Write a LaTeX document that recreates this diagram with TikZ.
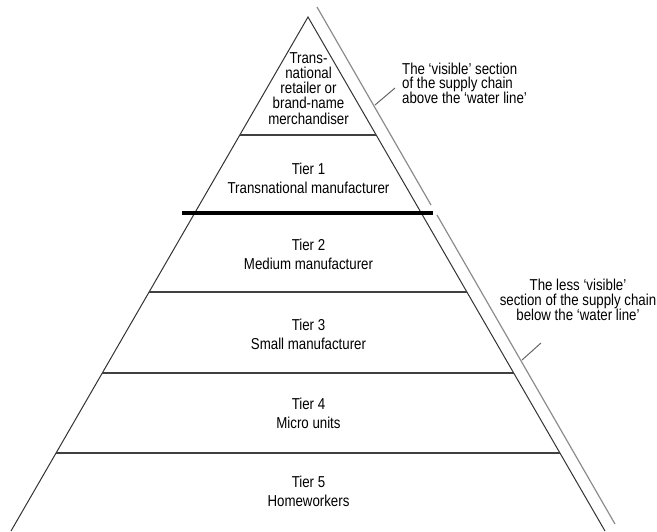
\documentclass[tikz,border=0pt]{standalone}
\usepackage{fontspec}
\setmainfont{Liberation Sans}[FakeStretch=0.84]
\usetikzlibrary{calc}
\tikzset{
  tier/.style={align=center,inner sep=0pt,anchor=base,font=\fontsize{15.8}{19}\selectfont},
  note/.style={inner sep=0pt,anchor=base,font=\fontsize{15.8}{14.8}\selectfont},
  side/.style={draw=black!80,line width=1pt},
  level line/.style={draw=black!75,line width=1.2pt},
  water/.style={draw=black!45,line width=1.2pt},
  tick/.style={draw=black!60,line width=1pt}
}

\begin{document}
\begin{tikzpicture}[x=1pt,y=-1pt]
  \useasboundingbox (0,0) rectangle (657,531);
  % pyramid
  \coordinate (a) at (308,17);
  \coordinate (l) at (11,531);
  \coordinate (r) at (605,531);
  \draw[side] (l) -- (a) -- (r);
  \foreach \y in {135,292,373,453}
    \draw[level line] ($(a)!{(\y-17)/514}!(l)$) -- ($(a)!{(\y-17)/514}!(r)$);
  % water line
  \coordinate (w1) at (182,213);
  \coordinate (w2) at (433,213);
  \draw[line width=3.3pt] (w1) -- (w2);
  % side line
  \coordinate (g0) at (317,7);
  \coordinate (g1) at (431,205);
  \coordinate (g2) at (437,215);
  \coordinate (g3) at (615,524);
  \draw[water] (g0) -- (g1);
  \draw[water] (g2) -- (g3);
  % labels (base = last line)
  \node [tier,font=\fontsize{15.8}{15.2}\selectfont] (0) at (308.5,124) {Trans-\\national\\retailer or\\brand-name\\merchandiser};
  \node [tier] (1) at (308.5,193.3) {Tier 1\\Transnational manufacturer};
  \node [tier] (2) at (308.5,269.3) {Tier 2\\Medium manufacturer};
  \node [tier] (3) at (308.5,349) {Tier 3\\Small manufacturer};
  \node [tier] (4) at (308.5,428.3) {Tier 4\\Micro units};
  \node [tier] (5) at (308.5,506) {Tier 5\\Homeworkers};
  \node [note,anchor=base west,align=left] (up) at (402,103.6) {The ‘visible’ section\\of the supply chain\\above the ‘water line’};
  \node [note,align=center] (down) at (578,320.3) {The less ‘visible’\\section of the supply chain\\below the ‘water line’};
  % callouts
  \coordinate (c1) at (375,105);
  \coordinate (c2) at (395,88);
  \coordinate (c3) at (522,360);
  \coordinate (c4) at (541,343);
  \draw[tick] (c1) -- (c2);
  \draw[tick] (c3) -- (c4);
\end{tikzpicture}
\end{document}
